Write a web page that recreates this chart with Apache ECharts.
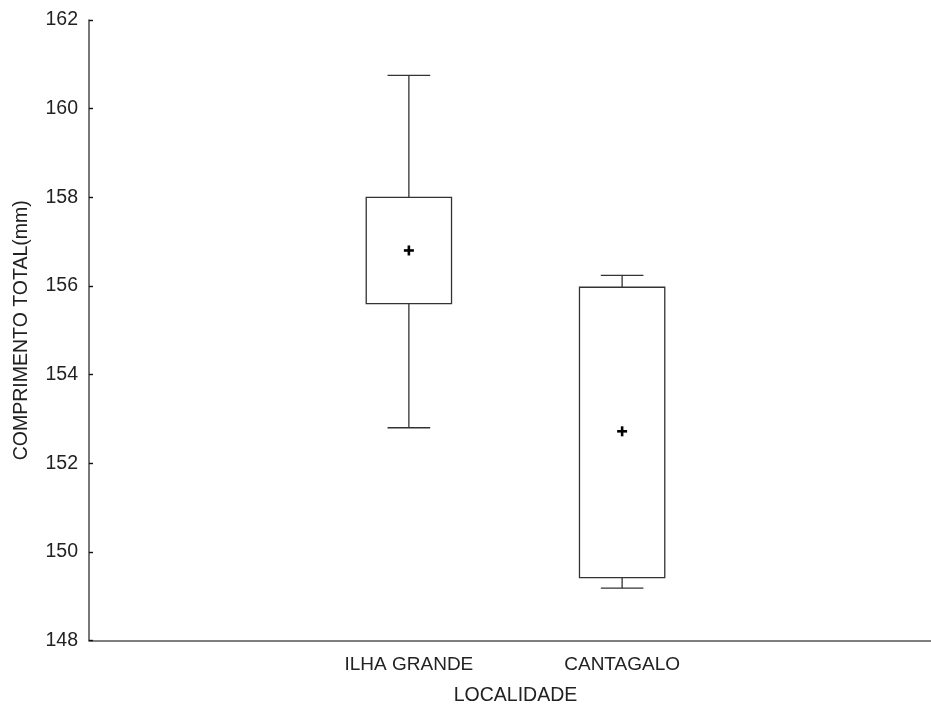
<!DOCTYPE html>
<html>
<head>
<meta charset="utf-8">
<script src="https://cdn.jsdelivr.net/npm/echarts@6/dist/echarts.min.js"></script>
<style>
  html, body { margin: 0; padding: 0; background: #fff; }
  #chart { width: 931px; height: 706px; }
</style>
</head>
<body>
<div id="chart"></div>
<script>
// Sampling sites along the x axis
const categories = ['ILHA GRANDE', 'CANTAGALO'];
// Whisker ends, box edges and mean for each site (mm)
const whiskerLow  = [152.8, 149.18];
const boxLow      = [155.6, 149.42];
const means       = [156.8, 152.72];
const boxHigh     = [158.0, 155.97];
const whiskerHigh = [160.75, 156.24];
// y axis ticks
const yTicks = { min: 148, max: 162, step: 2 };

// Padded category axis: an empty slot on each side of the two sites
const axisCats = [''].concat(categories, ['']);

const seriesData = categories.map((c, i) => [
  i + 1, whiskerLow[i], boxLow[i], means[i], boxHigh[i], whiskerHigh[i]
]);

const lineColor = '#333';
const font = 'Liberation Sans, Arial, sans-serif';

function renderItem(params, api) {
  const xi = api.value(0);
  const band = api.size([1, 0])[0];
  const boxW = band * 0.4;
  const capW = band * 0.2;
  const pLo = api.coord([xi, api.value(1)]);
  const pBl = api.coord([xi, api.value(2)]);
  const pM  = api.coord([xi, api.value(3)]);
  const pBh = api.coord([xi, api.value(4)]);
  const pHi = api.coord([xi, api.value(5)]);
  const cx = pM[0];
  const ls = { stroke: lineColor, lineWidth: 1.3, fill: null };
  const plus = 5;
  return {
    type: 'group',
    children: [
      { type: 'line', shape: { x1: cx, y1: pHi[1], x2: cx, y2: pBh[1] }, style: ls },
      { type: 'line', shape: { x1: cx, y1: pBl[1], x2: cx, y2: pLo[1] }, style: ls },
      { type: 'line', shape: { x1: cx - capW / 2, y1: pHi[1], x2: cx + capW / 2, y2: pHi[1] }, style: ls },
      { type: 'line', shape: { x1: cx - capW / 2, y1: pLo[1], x2: cx + capW / 2, y2: pLo[1] }, style: ls },
      { type: 'rect', shape: { x: cx - boxW / 2, y: pBh[1], width: boxW, height: pBl[1] - pBh[1] },
        style: { stroke: lineColor, lineWidth: 1.3, fill: '#fff' } },
      { type: 'line', shape: { x1: cx - plus, y1: pM[1], x2: cx + plus, y2: pM[1] },
        style: { stroke: '#000', lineWidth: 2.6 } },
      { type: 'line', shape: { x1: cx, y1: pM[1] - plus, x2: cx, y2: pM[1] + plus },
        style: { stroke: '#000', lineWidth: 2.6 } }
    ]
  };
}

const chart = echarts.init(document.getElementById('chart'), null, { renderer: 'canvas' });
chart.setOption({
  backgroundColor: '#fff',
  animation: false,
  // plot runs past the right edge of the canvas
  grid: { left: 89, top: 20, height: 620.5, width: 853, containLabel: false, outerBoundsMode: 'none' },
  xAxis: {
    type: 'category',
    data: axisCats,
    boundaryGap: true,
    name: 'LOCALIDADE',
    nameLocation: 'middle',
    nameGap: 45,
    nameTextStyle: { fontFamily: font, fontSize: 19.5, color: '#222', verticalAlign: 'top' },
    axisLine: { lineStyle: { color: '#555', width: 1.6 } },
    axisTick: { alignWithLabel: true, inside: true, length: 4, lineStyle: { color: '#111', width: 1.4 } },
    axisLabel: { fontFamily: font, fontSize: 19, color: '#222', margin: 15, interval: 0 },
    splitLine: { show: false }
  },
  yAxis: {
    type: 'value',
    min: yTicks.min,
    max: yTicks.max,
    interval: yTicks.step,
    name: 'COMPRIMENTO TOTAL(mm)',
    nameLocation: 'middle',
    nameGap: 57,
    nameRotate: 90,
    nameTextStyle: { fontFamily: font, fontSize: 19.5, color: '#222' },
    axisLine: { show: true, lineStyle: { color: '#555', width: 1.6 } },
    axisTick: { show: true, inside: true, length: 4, lineStyle: { color: '#111', width: 1.4 } },
    axisLabel: { fontFamily: font, fontSize: 19.5, color: '#222', margin: 11 },
    splitLine: { show: false }
  },
  series: [{
    type: 'custom',
    renderItem: renderItem,
    encode: { x: 0, y: [1, 2, 3, 4, 5] },
    data: seriesData,
    clip: false
  }]
});
</script>
</body>
</html>
